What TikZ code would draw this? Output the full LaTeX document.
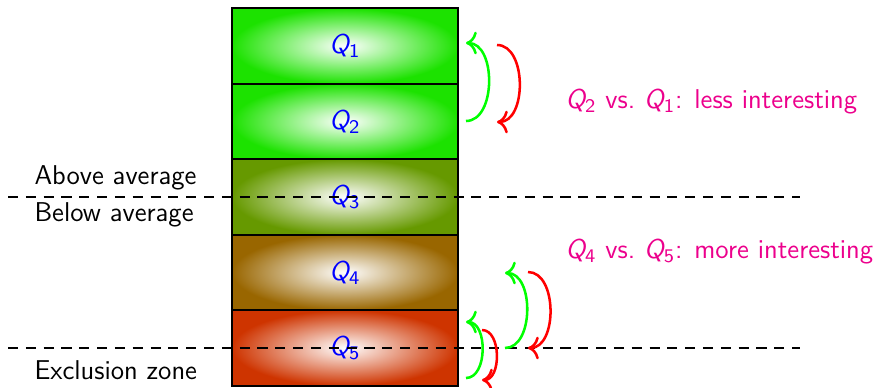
\documentclass[tikz,border=0pt]{standalone}
\usetikzlibrary{arrows.meta}
\definecolor{qgreen}{RGB}{28,226,0}
\definecolor{qolive}{RGB}{102,153,0}
\definecolor{qbrown}{RGB}{153,102,0}
\definecolor{qred}{RGB}{206,52,0}
\definecolor{notecol}{RGB}{236,0,140}
\definecolor{arrgreen}{RGB}{0,255,0}
\definecolor{arrred}{RGB}{255,0,0}
% sans italic query name with a sans subscript
\newcommand{\qname}[1]{{\itshape Q}$_{\mathsf{#1}}$}
\tikzset{
  every node/.style={font=\fontsize{11.3}{13.5}\selectfont\sffamily},
  qbox/.style={draw=black, line width=0.8pt, minimum width=226*0.14595mm,
    minimum height=75.5*0.14595mm, inner sep=0pt, inner color=white,
    outer color=#1, text=blue},
  sep/.style={dashed, line width=0.8pt, dash pattern=on 4.2pt off 3.2pt},
  cmp/.style={line width=1.05pt, -{To[scale=1.15]}},
  note/.style={text=notecol, anchor=west},
  zone/.style={anchor=west}
}
\begin{document}
\begin{tikzpicture}[x=0.14595mm, y=-0.14595mm]
  \useasboundingbox (0,0) rectangle (877,387);
  % ranked stack of queries
  \node[qbox=qgreen] (q1) at (345,46) {\qname{1}};
  \node[qbox=qgreen] (q2) at (345,121.5) {\qname{2}};
  \node[qbox=qolive] (q3) at (345,197) {\qname{3}};
  \node[qbox=qbrown] (q4) at (345,272.5) {\qname{4}};
  \node[qbox=qred]   (q5) at (345,348) {\qname{5}};
  % threshold lines
  \coordinate (avgL) at (8,197);
  \coordinate (avgR) at (800,197);
  \coordinate (excL) at (8,348);
  \coordinate (excR) at (800,348);
  \draw[sep] (avgL) -- (avgR);
  \draw[sep] (excL) -- (excR);
  \node[zone] (above) at (26,178) {Above average};
  \node[zone] (below) at (26,215) {Below average};
  \node[zone] (excl)  at (26,370) {Exclusion zone};
  % comparison arrows, upper pair
  \coordinate (a1s) at (466,121);
  \coordinate (a1e) at (466,43);
  \coordinate (b1s) at (497,45);
  \coordinate (b1e) at (497,122);
  \draw[cmp, arrgreen] (a1s) to[bend right=90] (a1e);
  \draw[cmp, arrred] (b1s) to[bend left=90] (b1e);
  % comparison arrows, lower pairs
  \coordinate (a2s) at (466,378);
  \coordinate (a2e) at (466,322);
  \coordinate (b2s) at (482,330);
  \coordinate (b2e) at (482,380);
  \draw[cmp, arrgreen] (a2s) to[bend right=90] (a2e);
  \draw[cmp, arrred] (b2s) to[bend left=90] (b2e);
  \coordinate (a3s) at (505,348);
  \coordinate (a3e) at (505,273);
  \coordinate (b3s) at (528,272);
  \coordinate (b3e) at (528,348);
  \draw[cmp, arrgreen] (a3s) to[bend right=90] (a3e);
  \draw[cmp, arrred] (b3s) to[bend left=90] (b3e);
  % notes
  \node[note] (n1) at (557,102) {\qname{2} vs.\ \qname{1}: less interesting};
  \node[note] (n2) at (557,252) {\qname{4} vs.\ \qname{5}: more interesting};
\end{tikzpicture}
\end{document}
